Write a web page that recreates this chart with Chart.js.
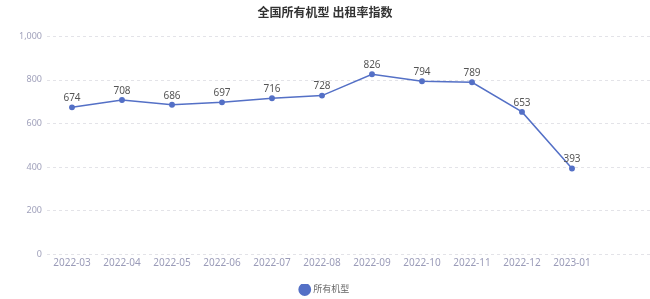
<!DOCTYPE html>
<html>
<head>
<meta charset="utf-8">
<script src="https://cdn.jsdelivr.net/npm/chart.js@4"></script>
<style>
  html, body { margin: 0; padding: 0; background: #fff; }
  #wrap { width: 650px; height: 299px; position: relative; }
</style>
</head>
<body>
<div id="wrap"><canvas id="myChart"></canvas></div>
<script>
const months = ['2022-03', '2022-04', '2022-05', '2022-06', '2022-07', '2022-08',
  '2022-09', '2022-10', '2022-11', '2022-12', '2023-01']
const rentIndex = [674, 708, 686, 697, 716, 728, 826, 794, 789, 653, 393]
const seriesName = '所有机型'
const chartTitle = '全国所有机型 出租率指数'

const blue = '#5470c6'
const fontFamily = "'Noto Sans', 'Noto Sans CJK SC', sans-serif"

// dashed horizontal grid that runs past the plot to the canvas edge
const gridLines = {
  id: 'gridLines',
  beforeDatasetsDraw(chart) {
    const { ctx, chartArea, scales } = chart
    ctx.save()
    ctx.strokeStyle = '#e3e3e8'
    ctx.lineWidth = 1
    ctx.setLineDash([3, 3])
    scales.y.ticks.forEach(t => {
      const y = Math.round(scales.y.getPixelForValue(t.value)) + 0.5
      ctx.beginPath()
      ctx.moveTo(chartArea.left, y)
      ctx.lineTo(chart.width, y)
      ctx.stroke()
    })
    ctx.restore()
  }
}

// value labels above each point
const valueLabels = {
  id: 'valueLabels',
  afterDatasetsDraw(chart) {
    const { ctx } = chart
    const meta = chart.getDatasetMeta(0)
    ctx.save()
    ctx.fillStyle = '#555'
    ctx.font = '10px ' + fontFamily
    ctx.textAlign = 'center'
    ctx.textBaseline = 'bottom'
    meta.data.forEach((pt, i) => {
      ctx.fillText(chart.data.datasets[0].data[i], pt.x, pt.y - 4)
    })
    ctx.restore()
  }
}

new Chart('myChart', {
  type: 'line',
  data: {
    labels: months,
    datasets: [{
      label: seriesName,
      data: rentIndex,
      borderColor: blue,
      backgroundColor: blue,
      borderWidth: 1.5,
      pointRadius: 2.2,
      pointHoverRadius: 3,
      tension: 0
    }]
  },
  options: {
    responsive: true,
    maintainAspectRatio: false,
    animation: false,
    layout: { padding: { top: 0, left: 0, right: 0, bottom: -5 } },
    scales: {
      x: {
        offset: true,
        grid: { display: false, drawTicks: false },
        border: { display: false },
        ticks: { color: '#9a9bb8', font: { size: 10, family: fontFamily }, padding: 3 },
        afterFit: scale => { scale.height = 30 }
      },
      y: {
        min: 0,
        max: 1000,
        ticks: {
          stepSize: 200,
          color: '#a0a1bb',
          font: { size: 9, family: fontFamily },
          padding: 5
        },
        grid: { display: false, drawTicks: false },
        border: { display: false },
        afterFit: scale => { scale.width = 47 }
      },
      // empty spacer on the right so the plot stops short of the edge
      spacer: {
        position: 'right',
        display: true,
        ticks: { display: false },
        grid: { display: false, drawTicks: false },
        border: { display: false },
        afterFit: scale => { scale.width = 53 }
      }
    },
    plugins: {
      title: {
        display: true,
        text: chartTitle,
        color: '#333',
        font: { size: 12, weight: 'bold', family: fontFamily },
        padding: { top: 6, bottom: 16 }
      },
      legend: {
        position: 'bottom',
        labels: {
          usePointStyle: true,
          pointStyle: 'circle',
          boxWidth: 8,
          boxHeight: 8,
          color: '#666',
          font: { size: 9, family: fontFamily },
          padding: 1
        }
      },
      tooltip: { enabled: false }
    }
  },
  plugins: [gridLines, valueLabels]
})
</script>
</body>
</html>
